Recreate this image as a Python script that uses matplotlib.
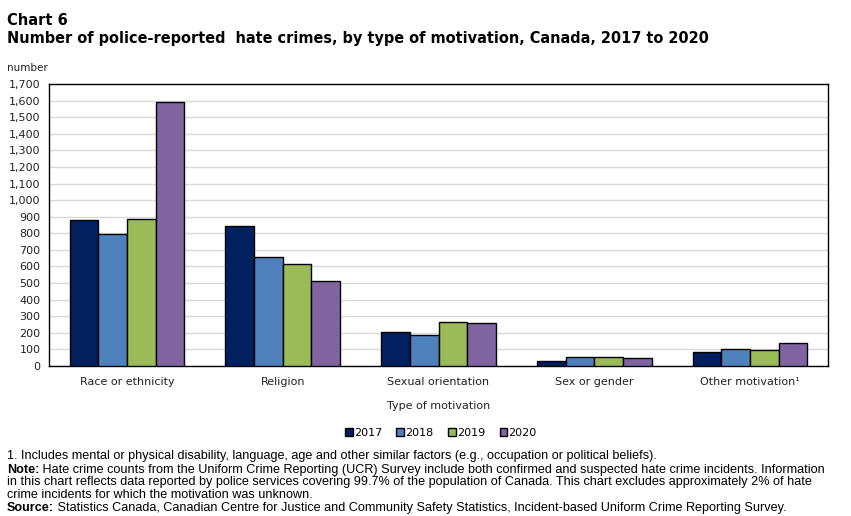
import numpy as np
import matplotlib.pyplot as plt
from matplotlib.ticker import FuncFormatter

# Dane
categories = ['Race or ethnicity', 'Religion', 'Sexual orientation', 'Sex or gender', 'Other motivation¹']
years = ['2017', '2018', '2019', '2020']
v2017 = [878, 842, 204, 31, 85]
v2018 = [793, 660, 186, 55, 103]
v2019 = [884, 613, 265, 54, 97]
v2020 = [1594, 515, 259, 48, 140]
colors = ['#002060', '#4f81bd', '#9bbb59', '#8064a2']

fig = plt.figure(figsize=(8.51, 5.16), dpi=100)
ax = fig.add_axes([0.0576, 0.2907, 0.9154, 0.5465])

x = np.arange(len(categories))
w = 0.184
for i, (vals, yr) in enumerate(zip([v2017, v2018, v2019, v2020], years)):
    ax.bar(x + (i - 1.5) * w, vals, w, color=colors[i], edgecolor='black',
           linewidth=1, label=yr, zorder=3)

ax.set_xlim(-0.5, len(categories) - 0.5)
ax.set_ylim(0, 1700)
ax.set_yticks(range(0, 1701, 100))
ax.yaxis.set_major_formatter(FuncFormatter(lambda v, p: f'{int(v):,}'))
ax.grid(axis='y', color='#d9d9d9', linewidth=1, zorder=0)
ax.set_xticks(x)
ax.set_xticklabels(categories)
ax.tick_params(length=0, labelsize=8, colors='#222222', pad=6)
ax.tick_params(axis='x', pad=8)
for s in ax.spines.values():
    s.set_linewidth(1)
ax.set_xlabel('Type of motivation', fontsize=8, color='#222222', labelpad=10)

# Tytuły
fig.text(0.008, 0.975, 'Chart 6', fontsize=10.5, fontweight='bold', va='top')
fig.text(0.008, 0.94, 'Number of police-reported  hate crimes, by type of motivation, Canada, 2017 to 2020',
         fontsize=10.45, fontweight='bold', va='top')
fig.text(0.008, 0.878, 'number', fontsize=7.5, va='top', color='#222222')

leg = fig.legend(loc='center', bbox_to_anchor=(0.518, 0.161), ncol=4, frameon=False,
                 fontsize=8, handlelength=0.7, handleheight=0.7, handletextpad=0.1,
                 columnspacing=1.3)

# Przypisy
fn = 9.1
fam = 'Liberation Sans'
lines = [
    (0.116, None, '1. Includes mental or physical disability, language, age and other similar factors (e.g., occupation or political beliefs).'),
    (0.090, 'Note:', ' Hate crime counts from the Uniform Crime Reporting (UCR) Survey include both confirmed and suspected hate crime incidents. Information'),
    (0.065, None, 'in this chart reflects data reported by police services covering 99.7% of the population of Canada. This chart excludes approximately 2% of hate'),
    (0.041, None, 'crime incidents for which the motivation was unknown.'),
    (0.016, 'Source:', ' Statistics Canada, Canadian Centre for Justice and Community Safety Statistics, Incident-based Uniform Crime Reporting Survey.'),
]
fig.canvas.draw()
r = fig.canvas.get_renderer()
for y, bold, txt in lines:
    xx = 0.008
    if bold:
        t = fig.text(xx, y, bold, fontsize=fn, fontweight='bold', family=fam, va='center')
        bb = t.get_window_extent(r)
        xx = bb.x1 / fig.bbox.width
    fig.text(xx, y, txt, fontsize=fn, family=fam, va='center')

fig.savefig('out.png', dpi=100)
